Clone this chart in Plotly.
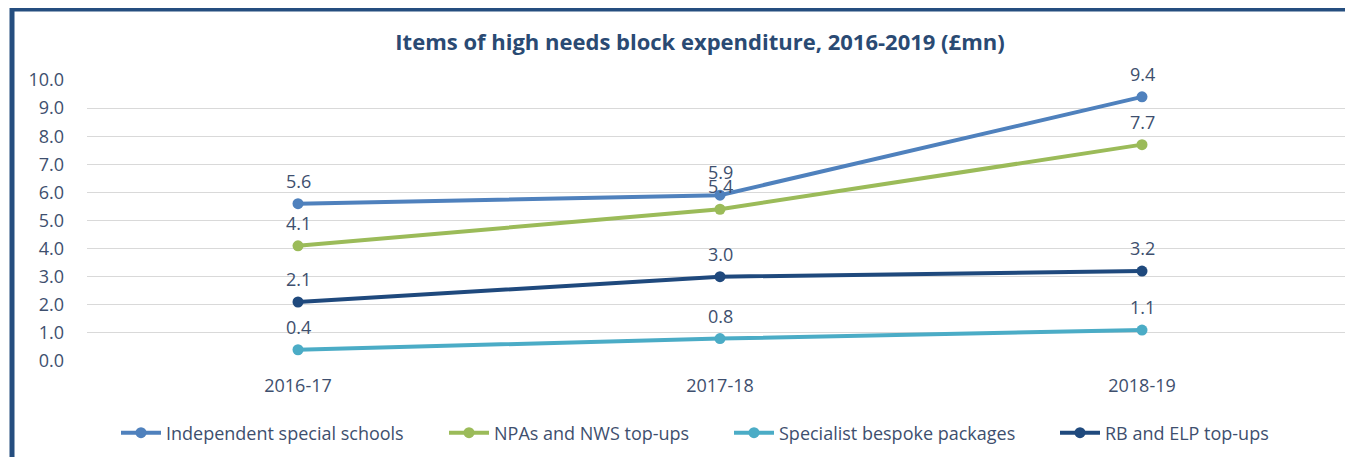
import plotly.graph_objects as go

years = ["2016-17", "2017-18", "2018-19"]
series_names = ["Independent special schools", "NPAs and NWS top-ups",
                "Specialist bespoke packages", "RB and ELP top-ups"]
independent = [5.6, 5.9, 9.4]
npas = [4.1, 5.4, 7.7]
specialist = [0.4, 0.8, 1.1]
rb_elp = [2.1, 3.0, 3.2]
colors = ["#4F81BD", "#9BBB59", "#4BACC6", "#1F497D"]
y_ticks = [0, 1, 2, 3, 4, 5, 6, 7, 8, 9, 10]

W, H = 1353, 457
OFF = 8  # page body margin
L, R = 87 - OFF, OFF
T = 80 - OFF
B = H - (361 - OFF)
FONT = "Open Sans"
TXT = "#3E4F6E"

legend_x = [120, 448, 733, 1059]
legend_keys = ["legend", "legend2", "legend3", "legend4"]

fig = go.Figure()
for i, (name, vals, col) in enumerate(zip(series_names, [independent, npas, specialist, rb_elp], colors)):
    fig.add_trace(go.Scatter(
        x=years, y=vals, name=name, mode="lines+markers",
        line=dict(color=col, width=4), marker=dict(color=col, size=11),
        legend=legend_keys[i],
    ))
    for xv, yv in zip(years, vals):
        fig.add_annotation(x=xv, y=yv, text=f"{yv:.1f}", showarrow=False,
                           yshift=23, font=dict(family=FONT, size=18, color=TXT))

pw = W - L - R
ph = H - T - B
def px(x):
    return (x - OFF - L) / pw
def py(y):
    return (H - B - (y - OFF)) / ph

fig.add_shape(type="path", xref="paper", yref="paper",
              path=f"M {px(12)} {py(470)} L {px(12)} {py(9)} L {px(1370)} {py(9)}",
              line=dict(color="#254E7F", width=5))

legend_cfg = {}
for i, key in enumerate(legend_keys):
    legend_cfg[key] = dict(orientation="h", x=(legend_x[i] - OFF - 4) / W, xref="container",
                           xanchor="left", y=1 - (433 - OFF) / H, yref="container",
                           yanchor="middle", font=dict(family=FONT, size=18, color=TXT),
                           itemwidth=40, bgcolor="rgba(0,0,0,0)", borderwidth=0)

fig.update_layout(
    width=W, height=H,
    margin=dict(l=L, r=R, t=T, b=B, autoexpand=False),
    paper_bgcolor="white", plot_bgcolor="white",
    font=dict(family=FONT, size=17, color=TXT),
    title=dict(text="<b>Items of high needs block expenditure, 2016-2019 (£mn)</b>",
               x=(700 - OFF) / W, xanchor="center", y=1 - (42 - OFF) / H, yanchor="middle",
               font=dict(family=FONT, size=22, color="#2A4A73")),
    xaxis=dict(type="category", range=[-0.5, 2.5], showgrid=False, showline=False,
               zeroline=False, ticks="", ticklabelstandoff=12,
               tickfont=dict(family=FONT, size=18, color=TXT)),
    yaxis=dict(range=[0, 10], tickvals=y_ticks, ticktext=[f"{v:.1f}" for v in y_ticks],
               showgrid=True, gridcolor="#D9D9D9", gridwidth=1.3,
               zeroline=False, showline=False, ticklabelstandoff=22,
               tickfont=dict(family=FONT, size=18, color=TXT)),
    showlegend=True,
    **legend_cfg,
)
fig.write_html("out.html")
